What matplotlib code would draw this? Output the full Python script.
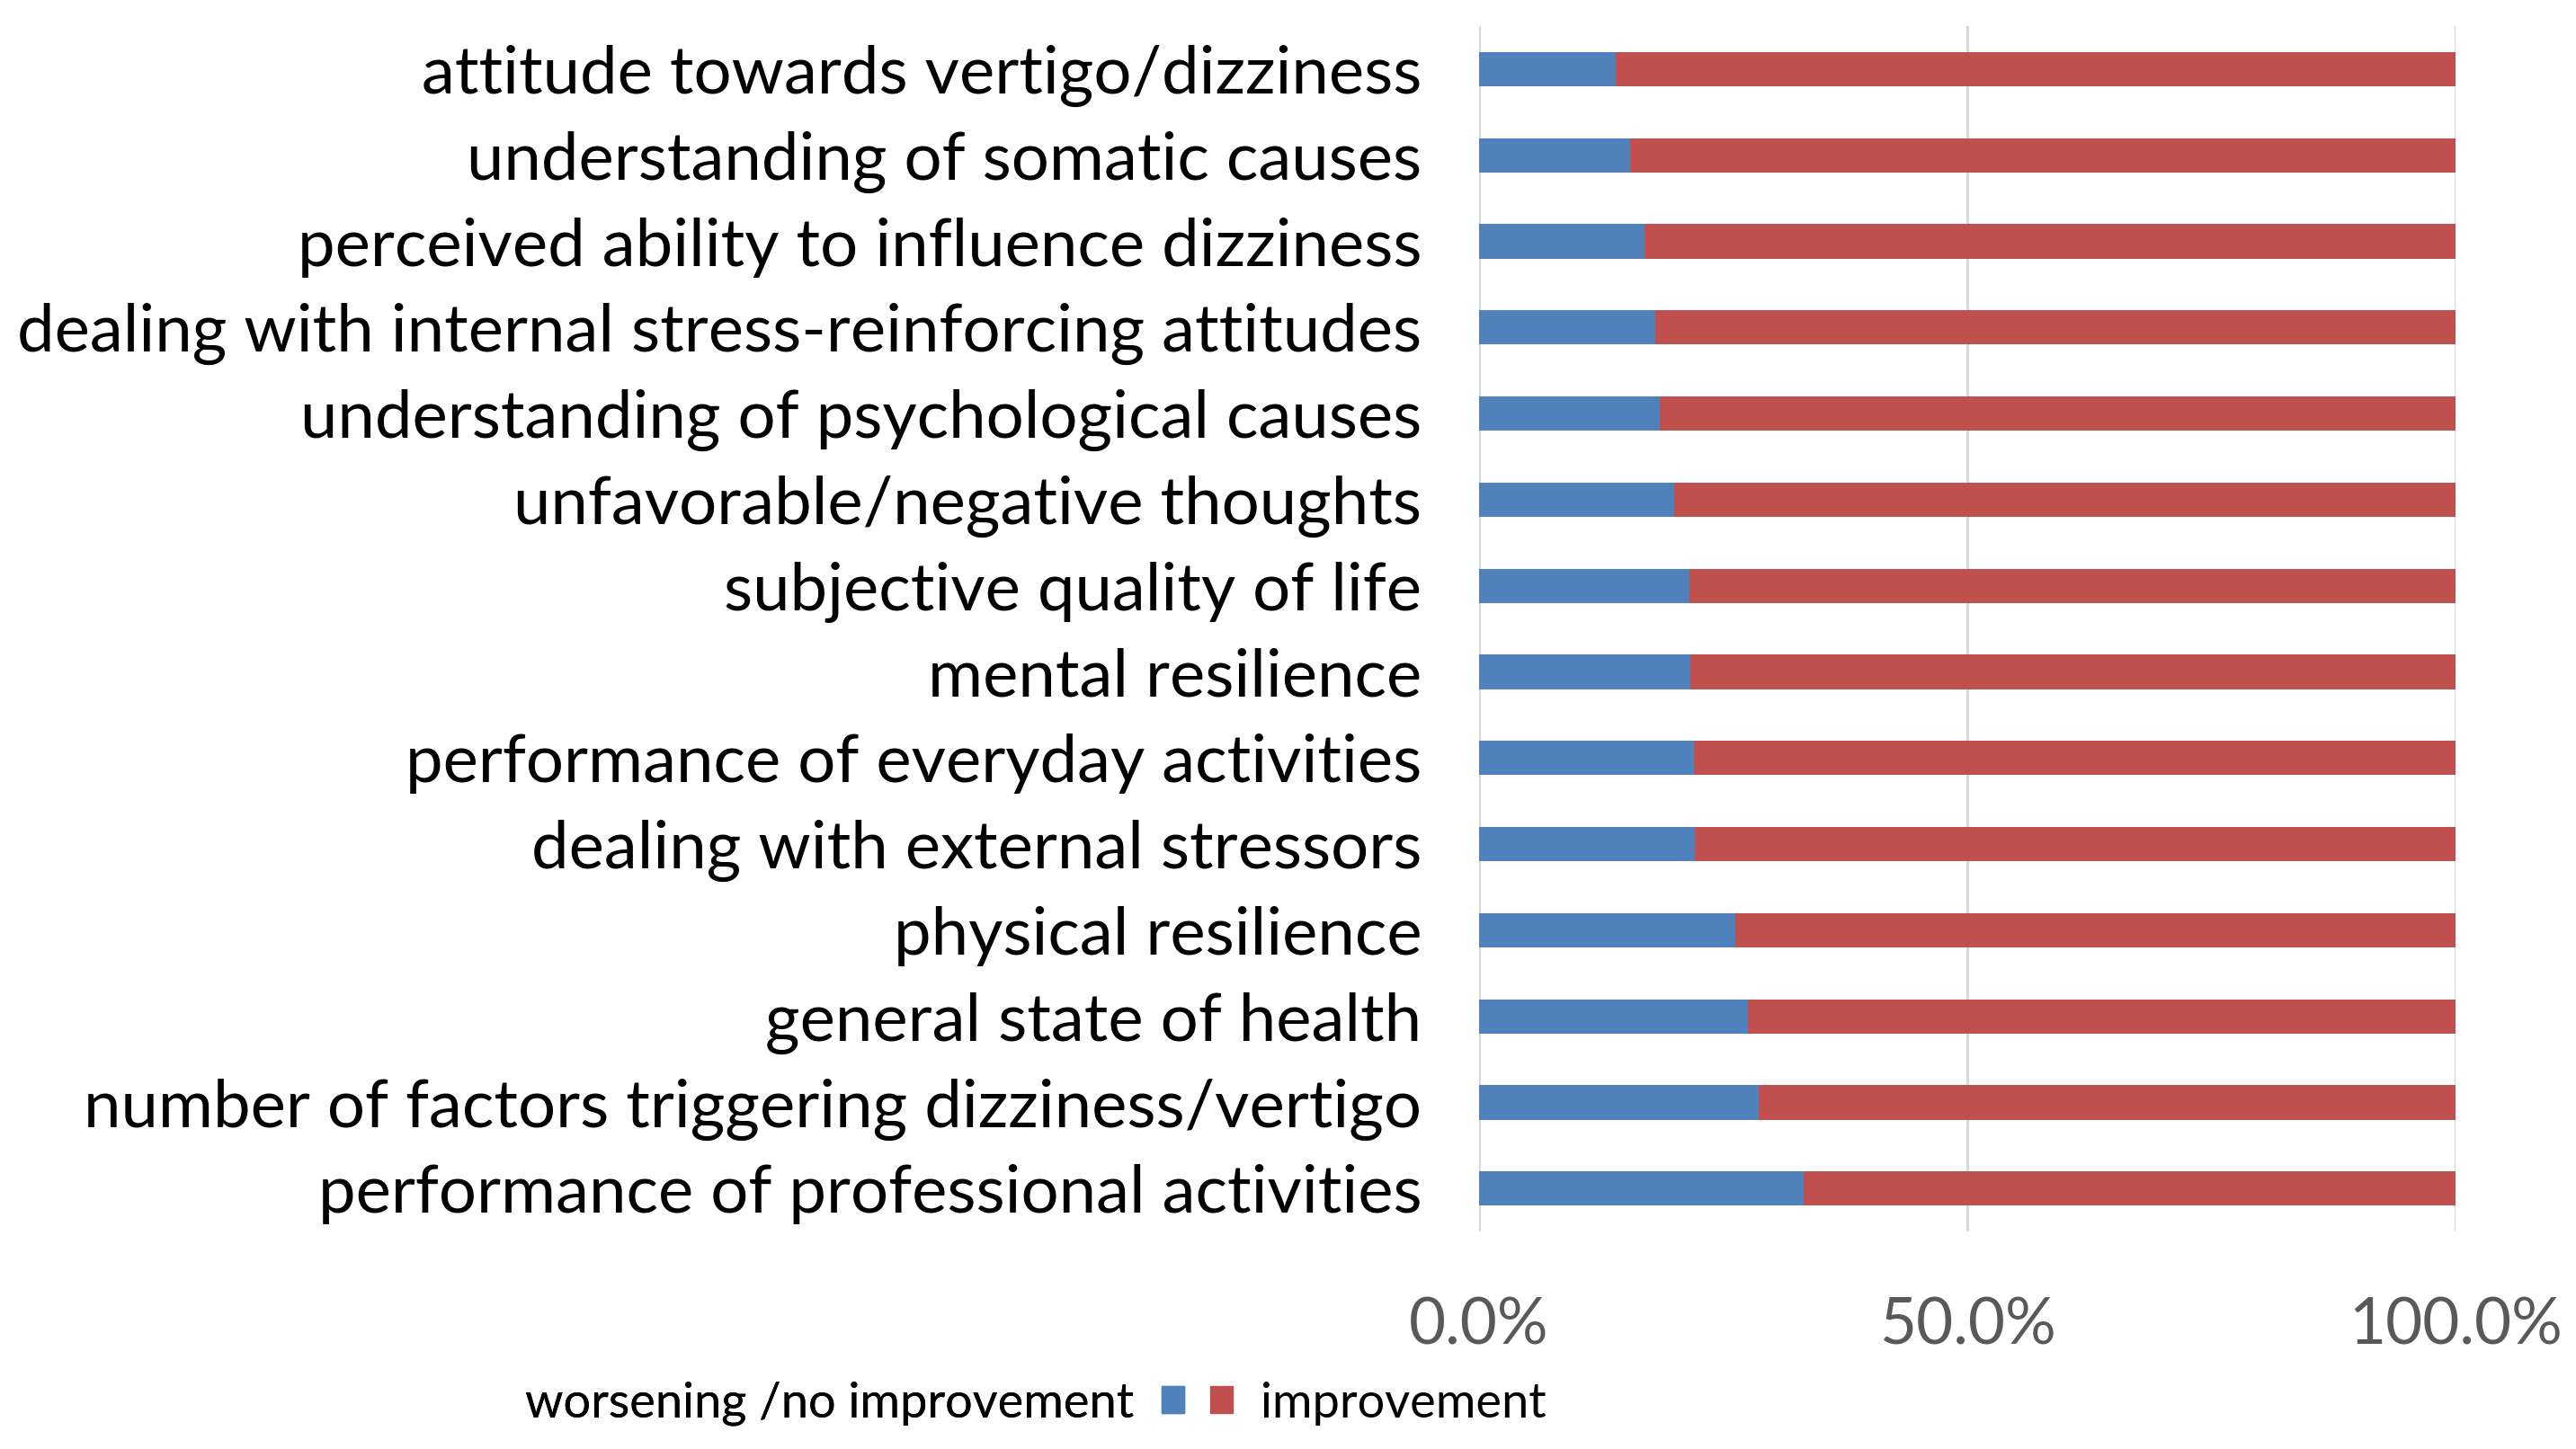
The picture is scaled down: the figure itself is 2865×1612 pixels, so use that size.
import matplotlib
matplotlib.use("Agg")
import matplotlib.pyplot as plt
from matplotlib.patches import Patch
from matplotlib.ticker import FuncFormatter

# categories top to bottom, as in the chart
categories = [
    "attitude towards vertigo/dizziness",
    "understanding of somatic causes",
    "perceived ability to influence dizziness",
    "dealing with internal stress-reinforcing attitudes",
    "understanding of psychological causes",
    "unfavorable/negative thoughts",
    "subjective quality of life",
    "mental resilience",
    "performance of everyday activities",
    "dealing with external stressors",
    "physical resilience",
    "general state of health",
    "number of factors triggering dizziness/vertigo",
    "performance of professional activities",
]
no_improvement = [14.0, 15.5, 16.9, 18.0, 18.5, 20.0, 21.5,
                  21.6, 22.0, 22.1, 26.2, 27.5, 28.6, 33.2]
improvement = [100 - v for v in no_improvement]
xticks = [0, 50, 100]

BLUE = "#4F81BD"
RED  = "#C0504D"
GRID = "#D9D9D9"

plt.rcParams["font.family"] = ["Lato", "DejaVu Sans"]

fig = plt.figure(figsize=(28.65, 16.12), dpi=100)
ax = fig.add_axes([0.5742, 0.150, 0.9532 - 0.5742, 0.982 - 0.150])

ypos = list(range(len(categories)))
ax.barh(ypos, no_improvement, height=0.4, color=BLUE, zorder=3)
ax.barh(ypos, improvement, left=no_improvement, height=0.4, color=RED, zorder=3)

ax.set_ylim(len(categories) - 0.5, -0.5)
ax.set_xlim(0, 100)
ax.set_yticks(ypos)
ax.set_yticklabels(categories, fontsize=53.5, color="#000000")
ax.set_xticks(xticks)
ax.xaxis.set_major_formatter(FuncFormatter(lambda v, _: f"{v:.1f}%"))
ax.tick_params(axis="x", length=0, pad=52, labelsize=51, labelcolor="#595959")
ax.tick_params(axis="y", length=0, pad=46)
ax.xaxis.grid(True, color=GRID, linewidth=2.2, zorder=0)
for s in ax.spines.values():
    s.set_visible(False)

leg_y = 1 - 1561 / 1612
kw = dict(frameon=False, fontsize=39, handlelength=0.46, handleheight=0.46,
          borderpad=0, borderaxespad=0, handletextpad=0.58)
leg1 = fig.legend([Patch(color=BLUE)], ["worsening /no improvement"], loc="center right",
                  bbox_to_anchor=(1317 / 2865, leg_y), markerfirst=False, **kw)
fig.add_artist(leg1)
fig.legend([Patch(color=RED)], ["improvement"], loc="center left",
           bbox_to_anchor=(1346 / 2865, leg_y), markerfirst=True, **kw)

fig.savefig("out.png", dpi=100, facecolor="white")
